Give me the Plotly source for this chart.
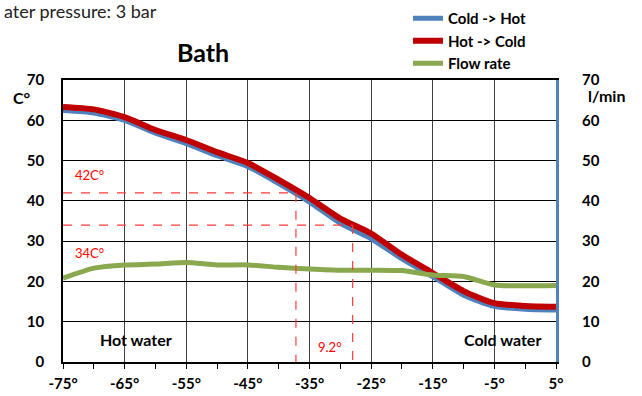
import plotly.graph_objects as go

# Mixer handle angle (degrees)
angles = [-75, -70, -65, -60, -55, -50, -45, -40, -35, -30, -25, -20, -15, -10, -5, 0, 5]

# Outlet temperature (°C)
cold_to_hot = [62.4, 61.8, 60.0, 56.8, 54.2, 51.2, 48.5, 44.3, 39.7, 34.4, 30.6, 25.6, 21.2, 16.6, 13.8, 13.1, 12.9]
hot_to_cold = [63.3, 62.7, 60.8, 57.6, 55.1, 52.1, 49.4, 45.2, 40.7, 35.6, 31.9, 26.6, 22.1, 17.6, 14.6, 13.9, 13.7]

# Flow rate (l/min)
flow_rate = [20.8, 23.3, 24.1, 24.3, 24.7, 24.1, 24.1, 23.5, 23.1, 22.8, 22.8, 22.7, 21.6, 21.2, 19.1, 18.9, 19.0]

x_tickvals = [-75, -65, -55, -45, -35, -25, -15, -5, 5]
x_ticktext = ["-75°", "-65°", "-55°", "-45°", "-35°", "-25°", "-15°", "-5°", "5°"]
y_tickvals = [0, 10, 20, 30, 40, 50, 60, 70]

# Reference temperatures and the angle span between them
t_high = 42
t_low = 34
angle_high = -37.2
angle_span = 9.2
angle_low = angle_high + angle_span

FONT = "Lato"
BLUE = "#4f81bd"
RED = "#c00000"
GREEN = "#8aa84e"
DASH_RED = "#ff3b3b"

fig = go.Figure()
fig.add_trace(go.Scatter(x=angles, y=cold_to_hot, name="Cold -> Hot", mode="lines",
                         line=dict(color=BLUE, width=5, shape="spline", smoothing=0.6)))
fig.add_trace(go.Scatter(x=angles, y=hot_to_cold, name="Hot -> Cold", mode="lines",
                         line=dict(color=RED, width=6, shape="spline", smoothing=0.6)))
fig.add_trace(go.Scatter(x=angles, y=flow_rate, name="Flow rate", mode="lines", yaxis="y2",
                         line=dict(color=GREEN, width=5, shape="spline", smoothing=0.6)))

# Dashed guide lines for the two reference temperatures
for t, a in [(t_high, angle_high), (t_low, angle_low)]:
    fig.add_shape(type="line", xref="x", yref="y", x0=-75, x1=a, y0=t, y1=t,
                  line=dict(color=DASH_RED, width=1.2, dash="dash"), layer="above")
    fig.add_shape(type="line", xref="x", yref="y", x0=a, x1=a, y0=t, y1=0,
                  line=dict(color=DASH_RED, width=1.2, dash="dash"), layer="above")

red_font = dict(family=FONT, size=13, color="#ff0000")
bold_font = dict(family=FONT, size=16, color="#000000", weight="bold")
annotations = [
    dict(x=-73.4, y=46.4, xref="x", yref="y", text=f"{t_high}C°", showarrow=False,
         xanchor="left", yanchor="middle", font=red_font),
    dict(x=-73.4, y=27.0, xref="x", yref="y", text=f"{t_low}C°", showarrow=False,
         xanchor="left", yanchor="middle", font=red_font),
    dict(x=(angle_high + angle_low) / 2 + 1.0, y=3.7, xref="x", yref="y", text=f"{angle_span}°",
         showarrow=False, xanchor="center", yanchor="middle", font=red_font),
    dict(x=-63.2, y=5.5, xref="x", yref="y", text="Hot water", showarrow=False,
         xanchor="center", yanchor="middle", font=bold_font),
    dict(x=-3.7, y=5.5, xref="x", yref="y", text="Cold water", showarrow=False,
         xanchor="center", yanchor="middle", font=bold_font),
    dict(x=22, y=97, xref="paper", yref="paper", text="C°", showarrow=False,
         xanchor="center", yanchor="middle", font=bold_font),
    dict(x=606, y=96, xref="paper", yref="paper", text="l/min", showarrow=False,
         xanchor="center", yanchor="middle", font=bold_font),
    dict(x=203, y=52, xref="paper", yref="paper", text="Bath", showarrow=False,
         xanchor="center", yanchor="middle",
         font=dict(family=FONT, size=25, color="#000000", weight="bold")),
    dict(x=2, y=11, xref="paper", yref="paper", text="ater pressure: 3 bar", showarrow=False,
         xanchor="left", yanchor="middle", font=dict(family=FONT, size=18, color="#222222")),
]

# Convert pixel positions of the outer labels into paper coordinates
W, H = 642, 396
L, R, T, B = 63, 86, 80, 34
pw, ph = W - L - R, H - T - B
for ann in annotations:
    if ann["xref"] == "paper":
        ann["x"] = (ann["x"] - L) / pw
        ann["y"] = (H - B - ann["y"]) / ph

tick_font = dict(family=FONT, size=15, color="#000000", weight="bold")

fig.update_layout(
    width=W, height=H,
    margin=dict(l=L, r=R, t=T, b=B, pad=0, autoexpand=False),
    paper_bgcolor="white", plot_bgcolor="white",
    showlegend=True,
    legend=dict(x=(408 - L) / pw, y=(H - B - 2) / ph, xanchor="left", yanchor="top",
                font=dict(family=FONT, size=15, color="#000000", weight="bold"),
                bgcolor="rgba(0,0,0,0)", tracegroupgap=0, itemwidth=30),
    annotations=annotations,
    xaxis=dict(range=[-75, 5], tickvals=x_tickvals, ticktext=x_ticktext,
               tickfont=tick_font, showgrid=True, gridcolor="#404040", gridwidth=1,
               showline=True, linecolor="#000000", linewidth=1.5, mirror=True,
               ticks="outside", ticklen=5, tickcolor="#000000", zeroline=False,
               minor=dict(dtick=5, tick0=-75, ticks="outside", ticklen=5, tickcolor="#000000",
                          showgrid=False),
               ticklabelstandoff=2, fixedrange=True, automargin=False),
    yaxis=dict(range=[0, 70], tickvals=y_tickvals, tickfont=tick_font,
               showgrid=True, gridcolor="#000000", gridwidth=1,
               showline=True, linecolor="#000000", linewidth=1.5,
               ticks="", zeroline=False, ticklabelstandoff=14, fixedrange=True,
               automargin=False),
    yaxis2=dict(range=[0, 70], tickvals=y_tickvals, tickfont=tick_font,
                overlaying="y", side="right", showgrid=False,
                showline=True, linecolor=BLUE, linewidth=3,
                ticks="", zeroline=False, ticklabelstandoff=20, fixedrange=True,
                automargin=False),
)

fig.write_html("out.html")
